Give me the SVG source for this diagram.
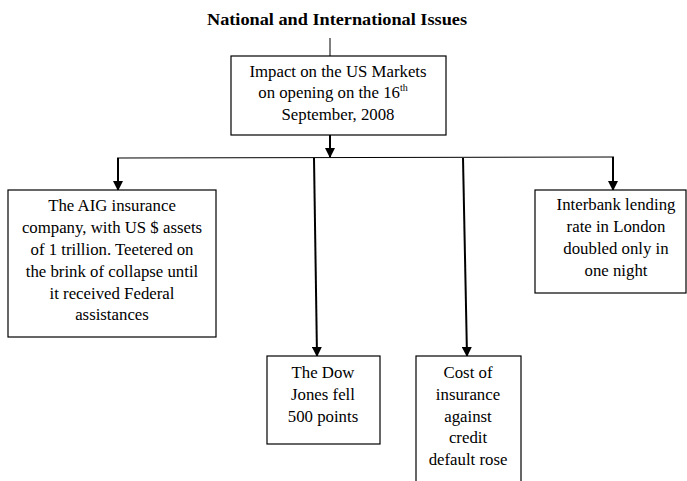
<svg xmlns="http://www.w3.org/2000/svg" width="687" height="481" viewBox="0 0 687 481">
<style>
  .box { fill: #ffffff; stroke: #000000; stroke-width: 1.2; }
  .t { font-family: "Liberation Serif", "Times New Roman", serif; font-size: 16.8px; fill: #000; text-anchor: middle; }
  .title { font-family: "Liberation Serif", serif; font-size: 17px; font-weight: bold; fill: #000; text-anchor: middle; }
  .thin { stroke: #000; stroke-width: 1; fill: none; }
  .arr { stroke: #000; stroke-width: 2; fill: none; marker-end: url(#ah); }
</style>
<defs>
  <marker id="ah" markerWidth="5" markerHeight="5" refX="4.5" refY="2.5" orient="auto" markerUnits="strokeWidth">
    <path d="M0,0 L5,2.5 L0,5 Z" fill="#000"/>
  </marker>
</defs>
<rect width="687" height="481" fill="#ffffff"/>
<text class="title" x="337" y="25" textLength="260" lengthAdjust="spacingAndGlyphs">National and International Issues</text>
<g id="connectors">
  <line class="thin" x1="330" y1="38" x2="330" y2="56"/>
  <line class="arr" x1="330" y1="135" x2="330" y2="157"/>
  <line class="thin" x1="117" y1="158" x2="614" y2="157"/>
  <line class="arr" x1="118" y1="158" x2="118" y2="190"/>
  <line class="arr" x1="613" y1="157" x2="613" y2="190"/>
  <line class="arr" x1="314" y1="158" x2="317" y2="356"/>
  <line class="arr" x1="463" y1="158" x2="467" y2="356"/>
</g>
<g id="center">
  <rect class="box" x="231" y="56" width="215" height="79"/>
  <text class="t" x="338" y="77">Impact on the US Markets</text>
  <text class="t" x="333" y="98">on opening on the 16<tspan font-size="10" dy="-7">th</tspan></text>
  <text class="t" x="338" y="120">September, 2008</text>
</g>
<g id="aig">
  <rect class="box" x="8" y="190" width="208" height="147"/>
  <text class="t" x="112" y="211">The AIG insurance</text>
  <text class="t" x="112" y="233">company, with US $ assets</text>
  <text class="t" x="112" y="255">of 1 trillion. Teetered on</text>
  <text class="t" x="112" y="277">the brink of collapse until</text>
  <text class="t" x="112" y="299">it received Federal</text>
  <text class="t" x="112" y="320">assistances</text>
</g>
<g id="interbank">
  <rect class="box" x="535" y="190" width="151" height="103"/>
  <text class="t" x="616" y="210">Interbank lending</text>
  <text class="t" x="616" y="232">rate in London</text>
  <text class="t" x="616" y="254">doubled only in</text>
  <text class="t" x="616" y="276">one night</text>
</g>
<g id="dow">
  <rect class="box" x="267" y="356" width="113" height="88"/>
  <text class="t" x="323" y="378">The Dow</text>
  <text class="t" x="323" y="400">Jones fell</text>
  <text class="t" x="323" y="422">500 points</text>
</g>
<g id="cost">
  <rect class="box" x="416" y="356" width="105" height="130"/>
  <text class="t" x="468" y="378">Cost of</text>
  <text class="t" x="468" y="400">insurance</text>
  <text class="t" x="468" y="422">against</text>
  <text class="t" x="468" y="443">credit</text>
  <text class="t" x="468" y="465">default rose</text>
</g>
</svg>
